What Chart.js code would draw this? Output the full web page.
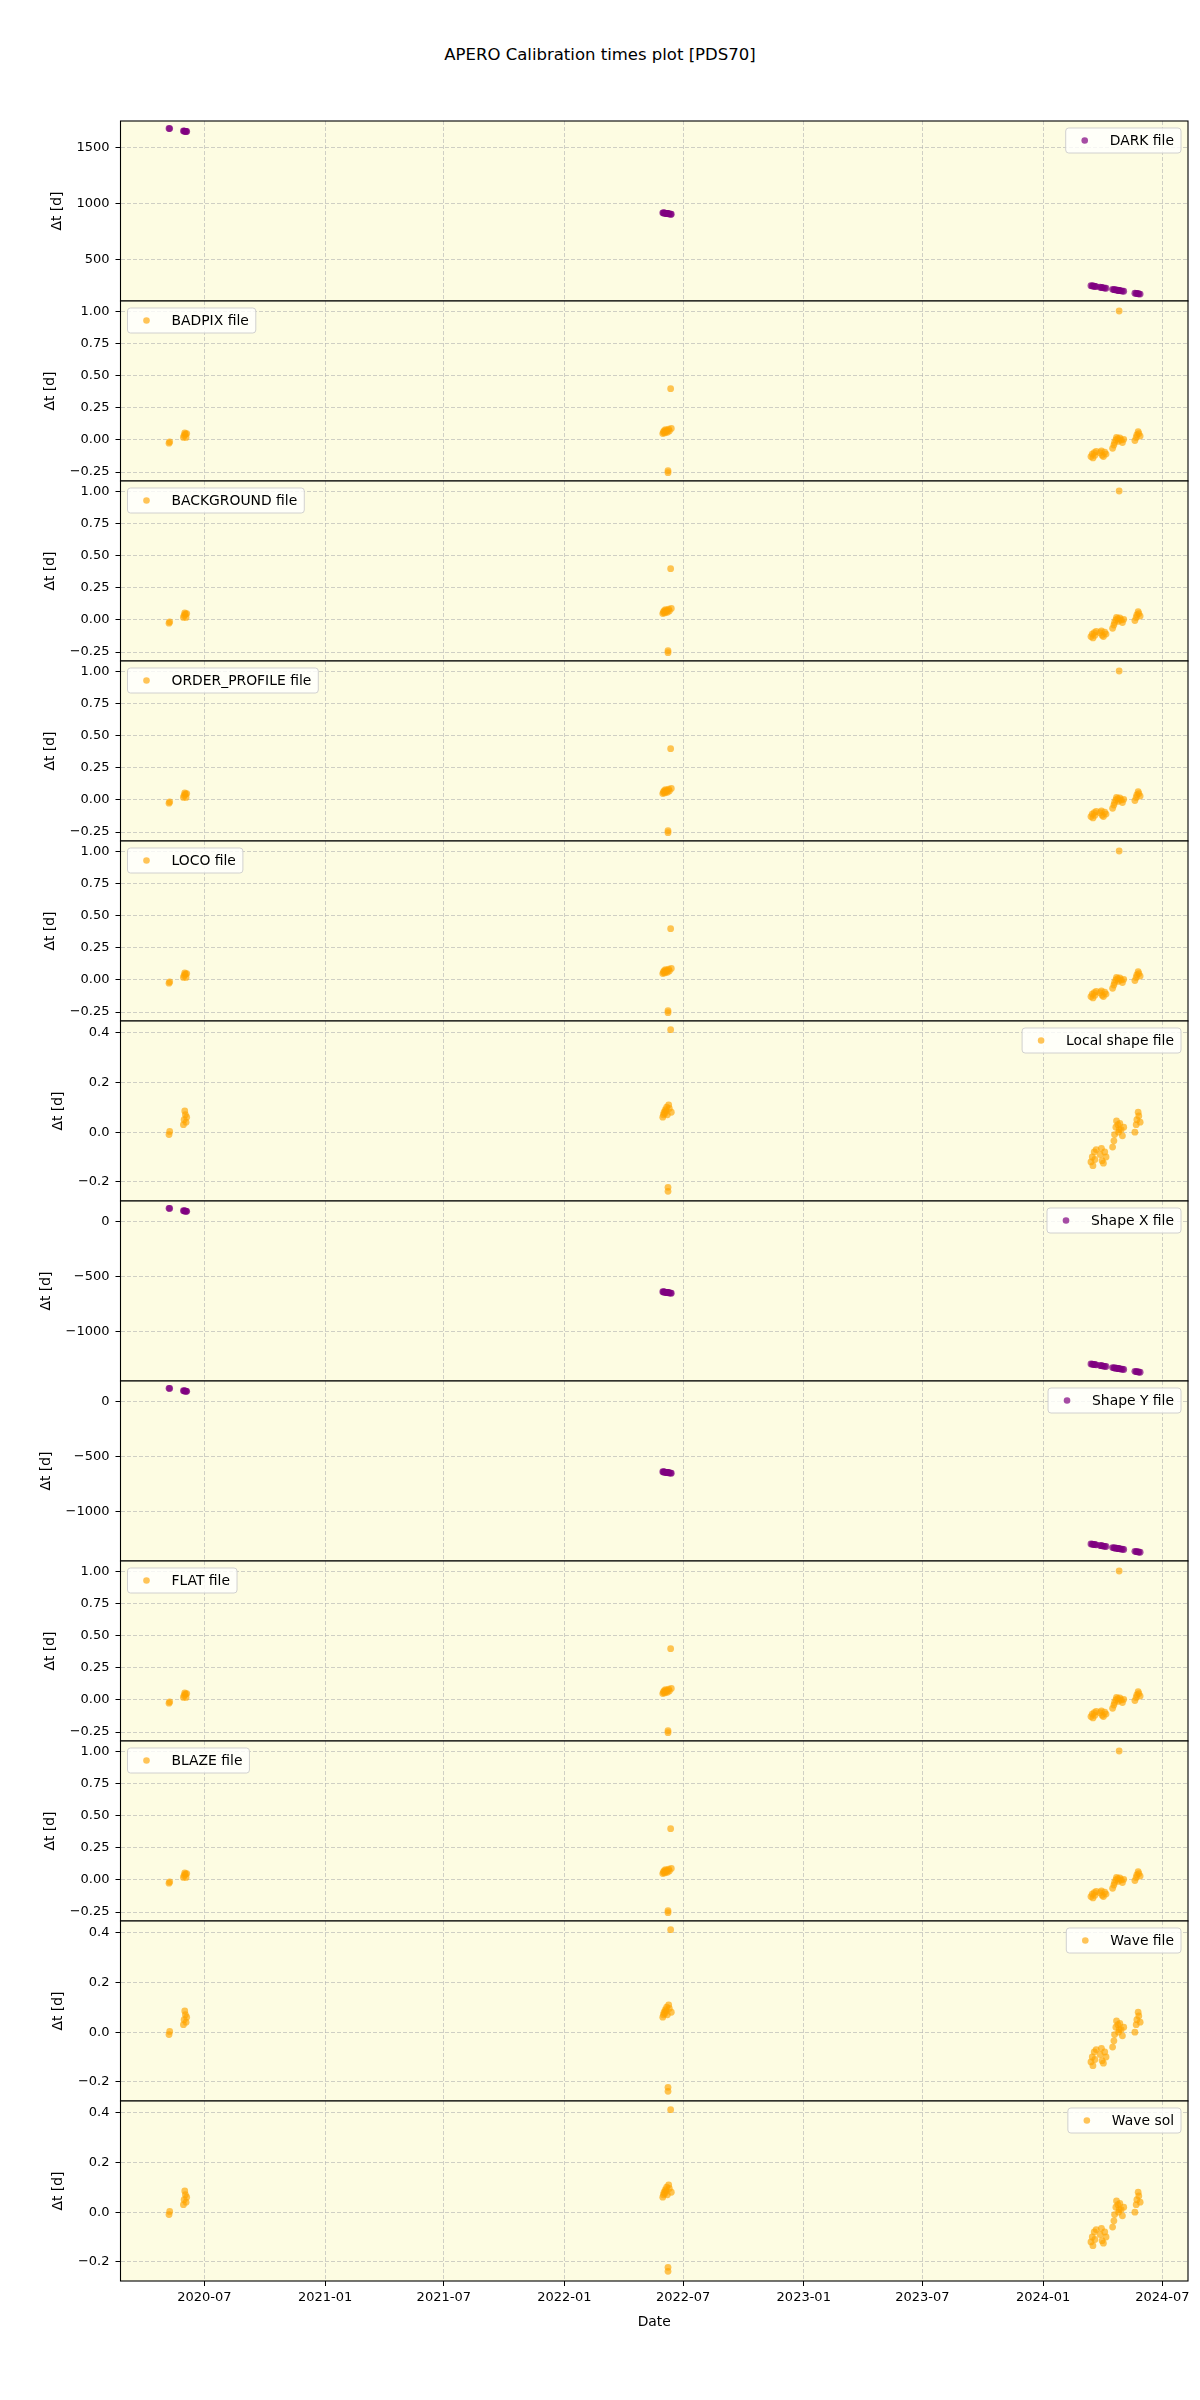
<!DOCTYPE html>
<html>
<head>
<meta charset="utf-8">
<title>APERO Calibration times plot [PDS70]</title>
<script src="https://cdn.jsdelivr.net/npm/chart.js@4.4.1/dist/chart.umd.min.js"></script>
<style>
  body { margin: 0; background: #fff; }
  #page { position: relative; width: 1200px; height: 2400px; background: #fff; font-family: "DejaVu Sans", sans-serif; }
  #title { position: absolute; top: 45px; left: 0; width: 1200px; text-align: center; font-size: 16.5px; color: #000; }
  canvas { position: absolute; left: 0; }
</style>
</head>
<body>
<div id="page">
  <div id="title">APERO Calibration times plot [PDS70]</div>
</div>
<script>
// observation dates (one entry per science frame)
const obsDates = [
  '2020-05-08', '2020-05-09',
  '2020-05-30', '2020-05-31', '2020-06-01', '2020-06-02', '2020-06-03', '2020-06-04',
  '2022-05-31', '2022-06-01', '2022-06-02', '2022-06-03', '2022-06-04', '2022-06-05', '2022-06-06',
  '2022-06-07', '2022-06-08', '2022-06-08', '2022-06-09', '2022-06-10', '2022-06-12', '2022-06-13',
  '2024-03-14', '2024-03-16', '2024-03-17', '2024-03-19', '2024-03-20', '2024-03-22',
  '2024-03-28', '2024-03-30', '2024-03-31', '2024-04-02', '2024-04-04', '2024-04-06',
  '2024-04-16', '2024-04-18', '2024-04-19', '2024-04-21', '2024-04-22', '2024-04-24',
  '2024-04-25', '2024-04-26', '2024-04-27', '2024-04-29', '2024-05-01', '2024-05-03',
  '2024-05-20', '2024-05-22', '2024-05-23', '2024-05-25', '2024-05-26', '2024-05-28'
];

// delta t [d] per calibration family
const darkDt = [
  1672, 1671,
  1650, 1649, 1648, 1647, 1646, 1645,
  918, 917, 916, 915, 914, 913, 912, 911, 910, 910, 909, 908, 906, 905,
  266, 264, 263, 261, 260, 258, 252, 250, 249, 247, 245, 243,
  233, 231, 230, 228, 227, 225, 224, 223, 222, 220, 218, 216,
  199, 197, 196, 194, 193, 191
];
const shapeDt = [
  116, 115,
  94, 93, 92, 91, 90, 89,
  -638, -639, -640, -641, -642, -643, -644, -645, -646, -646, -647, -648, -650, -651,
  -1290, -1292, -1293, -1295, -1296, -1298, -1304, -1306, -1307, -1309, -1311, -1313,
  -1323, -1325, -1326, -1328, -1329, -1331, -1332, -1333, -1334, -1336, -1338, -1340,
  -1357, -1359, -1360, -1362, -1363, -1365
];
const calDt = [
  -0.025, -0.015,
  0.02, 0.035, 0.055, 0.045, 0.02, 0.05,
  0.05, 0.06, 0.07, 0.055, 0.08, 0.065, 0.075, 0.06, -0.24, -0.255, 0.085, 0.07, 0.40, 0.09,
  -0.13, -0.11, -0.14, -0.10, -0.12, -0.09, -0.10, -0.085, -0.12, -0.13, -0.095, -0.11,
  -0.065, -0.04, -0.02, 0.0, 0.02, 0.01, -0.01, 1.005, 0.015, 0.0, -0.02, 0.005,
  -0.005, 0.02, 0.04, 0.065, 0.05, 0.03
];
const localDt = [
  -0.01, 0.003,
  0.03, 0.05, 0.085, 0.07, 0.04, 0.06,
  0.06, 0.07, 0.08, 0.075, 0.09, 0.085, 0.1, 0.07, -0.222, -0.238, 0.11, 0.095, 0.412, 0.08,
  -0.12, -0.10, -0.135, -0.08, -0.11, -0.07, -0.09, -0.065, -0.115, -0.125, -0.08, -0.10,
  -0.06, -0.035, -0.01, 0.02, 0.045, 0.03, 0.0, 0.01, 0.035, 0.01, -0.015, 0.02,
  0.0, 0.03, 0.05, 0.08, 0.065, 0.04
];

// axes
const xLimits = ['2020-02-24', '2024-08-09'];
const xTickLabels = ['2020-07', '2021-01', '2021-07', '2022-01', '2022-07', '2023-01', '2023-07', '2024-01', '2024-07'];
const darkTicks = [500, 1000, 1500];
const calTicks = [-0.25, 0, 0.25, 0.5, 0.75, 1.0];
const localTicks = [-0.2, 0, 0.2, 0.4];
const shapeTicks = [-1000, -500, 0];
const darkLimits = [129, 1739];
const calLimits = [-0.32, 1.083];
const localLimits = [-0.277, 0.447];
const shapeLimits = [-1444, 182];

const PURPLE = 'rgba(128,0,128,0.7)';
const ORANGE = 'rgba(255,165,0,0.65)';

const panels = [
  { label: 'DARK file', values: darkDt, ticks: darkTicks, lim: darkLimits, dec: 0, color: PURPLE, corner: 'right' },
  { label: 'BADPIX file', values: calDt, ticks: calTicks, lim: calLimits, dec: 2, color: ORANGE, corner: 'left' },
  { label: 'BACKGROUND file', values: calDt, ticks: calTicks, lim: calLimits, dec: 2, color: ORANGE, corner: 'left' },
  { label: 'ORDER_PROFILE file', values: calDt, ticks: calTicks, lim: calLimits, dec: 2, color: ORANGE, corner: 'left' },
  { label: 'LOCO file', values: calDt, ticks: calTicks, lim: calLimits, dec: 2, color: ORANGE, corner: 'left' },
  { label: 'Local shape file', values: localDt, ticks: localTicks, lim: localLimits, dec: 1, color: ORANGE, corner: 'right' },
  { label: 'Shape X file', values: shapeDt, ticks: shapeTicks, lim: shapeLimits, dec: 0, color: PURPLE, corner: 'right' },
  { label: 'Shape Y file', values: shapeDt, ticks: shapeTicks, lim: shapeLimits, dec: 0, color: PURPLE, corner: 'right' },
  { label: 'FLAT file', values: calDt, ticks: calTicks, lim: calLimits, dec: 2, color: ORANGE, corner: 'left' },
  { label: 'BLAZE file', values: calDt, ticks: calTicks, lim: calLimits, dec: 2, color: ORANGE, corner: 'left' },
  { label: 'Wave file', values: localDt, ticks: localTicks, lim: localLimits, dec: 1, color: ORANGE, corner: 'right' },
  { label: 'Wave sol', values: localDt, ticks: localTicks, lim: localLimits, dec: 1, color: ORANGE, corner: 'right' }
];

Chart.defaults.font.family = '"DejaVu Sans", sans-serif';
Chart.defaults.color = '#000';

const PLOT_LEFT = 120.5;
const PANEL_H = 180;
const FIRST_TOP = 120.5;
const PAD = 20;

// yellow face + black frame round each axes
const panelFrame = {
  id: 'panelFrame',
  beforeDraw(chart) {
    const { ctx, chartArea: a } = chart;
    ctx.save();
    ctx.fillStyle = 'rgb(253,252,226)';
    ctx.fillRect(a.left, a.top, a.right - a.left, a.bottom - a.top);
    ctx.restore();
  },
  afterDraw(chart) {
    const { ctx, chartArea: a } = chart;
    ctx.save();
    ctx.strokeStyle = '#000';
    ctx.lineWidth = 1.1;
    ctx.strokeRect(a.left, a.top, a.right - a.left, a.bottom - a.top);
    ctx.restore();
  }
};

// matplotlib-like legend box inside the axes
const insideLegend = {
  id: 'insideLegend',
  afterDatasetsDraw(chart, args, opts) {
    const { ctx, chartArea: a } = chart;
    const ds = chart.data.datasets[0];
    ctx.save();
    ctx.font = '13.9px "DejaVu Sans"';
    const w = ctx.measureText(ds.label).width + 51;
    const h = 25;
    const x = opts.corner === 'left' ? a.left + 7 : a.right - 7 - w;
    const y = a.top + 7;
    ctx.beginPath();
    ctx.roundRect(x, y, w, h, 3);
    ctx.fillStyle = 'rgba(255,255,255,0.8)';
    ctx.fill();
    ctx.strokeStyle = 'rgba(204,204,204,0.9)';
    ctx.lineWidth = 1;
    ctx.stroke();
    ctx.fillStyle = ds.backgroundColor;
    ctx.beginPath();
    ctx.arc(x + 19, y + h / 2, 3.3, 0, Math.PI * 2);
    ctx.fill();
    ctx.fillStyle = '#000';
    ctx.textBaseline = 'middle';
    ctx.fillText(ds.label, x + 44, y + h / 2 + 1);
    ctx.restore();
  }
};

function fmtTick(v, dec) {
  const s = Math.abs(v).toFixed(dec);
  return (v < 0 ? '\u2212' : '') + s;
}

function buildConfig(p, last, padLeft) {
  const xTickValues = xTickLabels.map(s => Date.parse(s + '-01'));
  return {
    type: 'scatter',
    data: {
      datasets: [{
        label: p.label,
        data: obsDates.map((d, i) => ({ x: Date.parse(d), y: p.values[i] })),
        backgroundColor: p.color,
        borderColor: p.color,
        borderWidth: 0,
        pointRadius: 3.4,
        pointHoverRadius: 3.4
      }]
    },
    options: {
      responsive: false,
      animation: false,
      events: [],
      layout: { padding: { left: padLeft, right: 12, top: PAD, bottom: last ? 0 : PAD } },
      plugins: {
        legend: { display: false },
        tooltip: { enabled: false },
        insideLegend: { corner: p.corner }
      },
      scales: {
        x: {
          type: 'linear',
          min: Date.parse(xLimits[0]),
          max: Date.parse(xLimits[1]),
          afterBuildTicks: scale => { scale.ticks = xTickValues.map(v => ({ value: v })); },
          afterFit: scale => { scale.height = last ? 50 : 0; },
          ticks: {
            display: last,
            autoSkip: false,
            maxRotation: 0,
            padding: 4,
            font: { size: 13 },
            color: '#000',
            callback: (v, i) => xTickLabels[i]
          },
          grid: {
            color: 'rgba(176,176,176,0.6)',
            lineWidth: 1,
            drawTicks: last,
            tickLength: 5,
            tickColor: '#000',
            tickWidth: 1
          },
          border: { display: false, dash: [4, 2] },
          title: { display: last, text: 'Date', font: { size: 13.9 }, color: '#000', padding: { top: 3, bottom: 0 } }
        },
        y: {
          min: p.lim[0],
          max: p.lim[1],
          afterBuildTicks: scale => { scale.ticks = p.ticks.map(v => ({ value: v })); },
          ticks: {
            padding: 6,
            font: { size: 13 },
            color: '#000',
            callback: v => fmtTick(v, p.dec)
          },
          grid: {
            color: 'rgba(176,176,176,0.6)',
            lineWidth: 1,
            tickLength: 5,
            tickColor: '#000',
            tickWidth: 1
          },
          border: { display: false, dash: [4, 2] },
          title: { display: true, text: '\u0394t [d]', font: { size: 13.9 }, color: '#000', padding: { top: 4, bottom: 5 } }
        }
      }
    },
    plugins: [panelFrame, insideLegend]
  };
}

const page = document.getElementById('page');
panels.forEach((p, k) => {
  const last = k === panels.length - 1;
  const canvas = document.createElement('canvas');
  canvas.width = 1200;
  canvas.height = last ? PAD + PANEL_H + 50 : PANEL_H + 2 * PAD;
  canvas.style.top = (FIRST_TOP - PAD + PANEL_H * k) + 'px';
  page.appendChild(canvas);
  // first pass to measure the y axis, then align the plot edge at PLOT_LEFT
  let chart = new Chart(canvas, buildConfig(p, last, 0));
  const yWidth = chart.scales.y.width;
  chart.destroy();
  chart = new Chart(canvas, buildConfig(p, last, Math.max(0, PLOT_LEFT - yWidth)));
});
</script>
</body>
</html>
